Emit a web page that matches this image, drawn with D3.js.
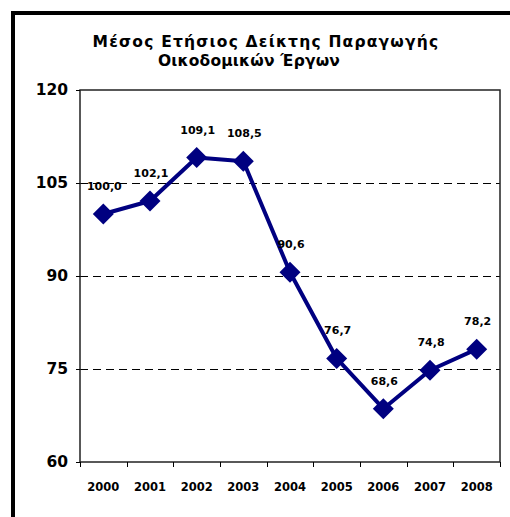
<!DOCTYPE html>
<html>
<head>
<meta charset="utf-8">
<script src="https://cdn.jsdelivr.net/npm/d3@7"></script>
<style>
  body { margin: 0; background: #fff; }
  text { font-family: "DejaVu Sans", Verdana, sans-serif; font-weight: bold; fill: #000; }
</style>
</head>
<body>
<script>
// chart data
var years = ["2000", "2001", "2002", "2003", "2004", "2005", "2006", "2007", "2008"];
var values = [100.0, 102.1, 109.1, 108.5, 90.6, 76.7, 68.6, 74.8, 78.2];
var yTicks = [60, 75, 90, 105, 120];
var titleLines = ["Μέσος Ετήσιος Δείκτης Παραγωγής", "Οικοδομικών Έργων"];

var W = 510, H = 517;
var pLeft = 80, pRight = 500, pTop = 90, pBottom = 462;

var svg = d3.select("body").append("svg")
  .attr("width", W).attr("height", H);

svg.append("rect").attr("width", W).attr("height", H).attr("fill", "#fff");

// outer frame (cut by the window on right and bottom)
svg.append("rect")
  .attr("x", 13).attr("y", 13)
  .attr("width", 600).attr("height", 600)
  .attr("fill", "none").attr("stroke", "#000").attr("stroke-width", 4);

// title
svg.selectAll(".title")
  .data(titleLines)
  .enter().append("text")
  .attr("class", "title")
  .attr("x", function(d, i) { return i === 0 ? 266 : 249; })
  .attr("y", function(d, i) { return 47 + i * 19; })
  .attr("text-anchor", "middle")
  .style("font-size", "15.5px")
  .style("letter-spacing", function(d, i) { return i === 0 ? "1.2px" : "0.2px"; })
  .text(function(d) { return d; });

var x = d3.scaleBand().domain(years).range([pLeft, pRight]).padding(0);
var y = d3.scaleLinear().domain([60, 120]).range([pBottom, pTop]);

// gridlines
svg.selectAll(".grid")
  .data(yTicks.filter(function(d) { return d > 60 && d < 120; }))
  .enter().append("line")
  .attr("x1", pLeft).attr("x2", pRight)
  .attr("y1", function(d) { return Math.round(y(d)) + 0.5; })
  .attr("y2", function(d) { return Math.round(y(d)) + 0.5; })
  .attr("stroke", "#000").attr("stroke-width", 1)
  .attr("stroke-dasharray", "8,5");

// plot frame
svg.append("rect")
  .attr("x", pLeft).attr("y", pTop)
  .attr("width", pRight - pLeft).attr("height", pBottom - pTop)
  .attr("fill", "none").attr("stroke", "#222").attr("stroke-width", 1.5);

// y axis
var yAxis = svg.append("g")
  .attr("transform", "translate(" + pLeft + ",0)")
  .call(d3.axisLeft(y).tickValues(yTicks).tickSize(4).tickPadding(8));
yAxis.select(".domain").remove();
yAxis.selectAll("line").attr("stroke", "#000");
yAxis.selectAll("text").style("font-size", "15.5px").attr("font-family", null);

// x axis with ticks on category boundaries
var bounds = years.map(function(d) { return x(d); }).concat([pRight]);
svg.selectAll(".xtick")
  .data(bounds)
  .enter().append("line")
  .attr("x1", function(d) { return Math.round(d) + 0.5; })
  .attr("x2", function(d) { return Math.round(d) + 0.5; })
  .attr("y1", pBottom).attr("y2", pBottom + 5)
  .attr("stroke", "#000");

svg.selectAll(".xlab")
  .data(years)
  .enter().append("text")
  .attr("x", function(d) { return x(d) + x.bandwidth() / 2; })
  .attr("y", 491)
  .attr("text-anchor", "middle")
  .style("font-size", "11.5px")
  .text(function(d) { return d; });

// series line
var cx = function(d, i) { return x(years[i]) + x.bandwidth() / 2; };
var line = d3.line()
  .x(function(d, i) { return cx(d, i); })
  .y(function(d) { return y(d); });

svg.append("path")
  .datum(values)
  .attr("d", line)
  .attr("fill", "none")
  .attr("stroke", "#000080")
  .attr("stroke-width", 4)
  .attr("stroke-linejoin", "round");

svg.selectAll(".pt")
  .data(values)
  .enter().append("path")
  .attr("d", "M0,-10.5L10.5,0L0,10.5L-10.5,0Z")
  .attr("transform", function(d, i) { return "translate(" + cx(d, i) + "," + y(d) + ")"; })
  .attr("fill", "#000080");

svg.selectAll(".lab")
  .data(values)
  .enter().append("text")
  .attr("x", function(d, i) { return cx(d, i) + 1; })
  .attr("y", function(d) { return y(d) - 24; })
  .attr("text-anchor", "middle")
  .style("font-size", "11px")
  .text(function(d) { return d.toFixed(1).replace(".", ","); });
</script>
</body>
</html>
